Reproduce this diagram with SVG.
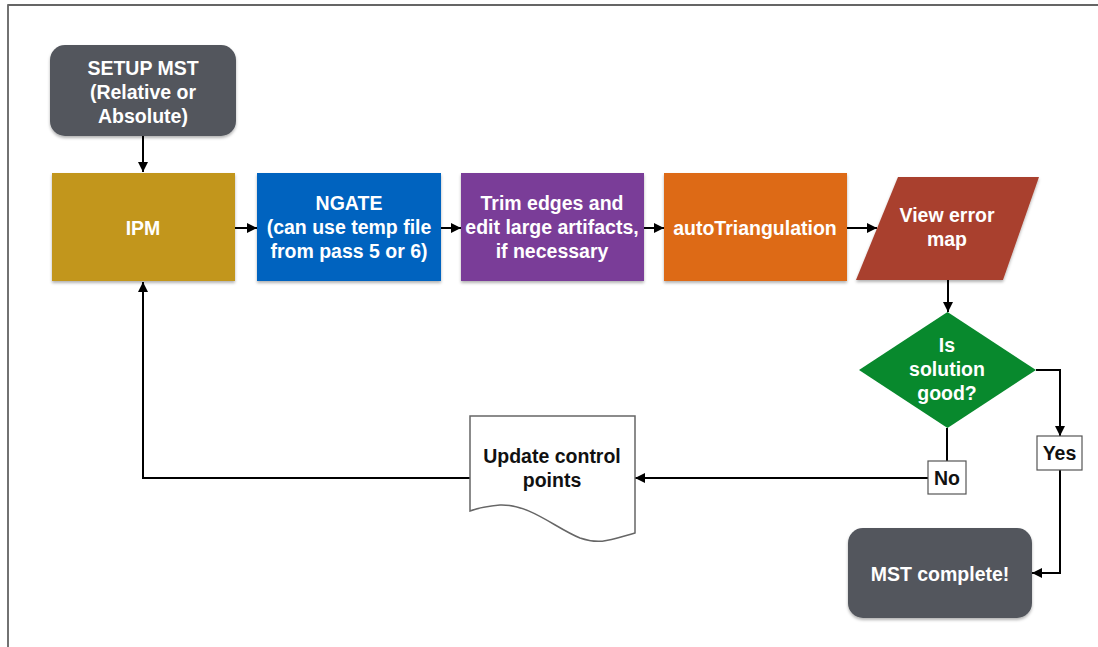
<svg xmlns="http://www.w3.org/2000/svg" width="1098" height="647" viewBox="0 0 1098 647">
<defs>
<filter id="sh" x="-10%" y="-10%" width="120%" height="130%">
<feDropShadow dx="0" dy="2" stdDeviation="1.5" flood-color="#000" flood-opacity="0.3"/>
</filter>
<marker id="ah" viewBox="0 0 10 10" refX="10" refY="5" markerWidth="10" markerHeight="10" markerUnits="userSpaceOnUse" orient="auto">
<path d="M0,0 L10,5 L0,10 Z" fill="#000"/>
</marker>
</defs>
<style>
.w{font-family:"Liberation Sans",Arial,sans-serif;font-weight:bold;font-size:19.5px;fill:#fff;text-anchor:middle}
.b{font-family:"Liberation Sans",Arial,sans-serif;font-weight:bold;font-size:19.5px;fill:#111;text-anchor:middle}
.c{fill:none;stroke:#000;stroke-width:2}
.a{marker-end:url(#ah)}
.lb{fill:#fff;stroke:#555;stroke-width:1.2}
</style>
<rect width="1098" height="647" fill="#fff"/>
<path d="M8,647 V5 H1098" fill="none" stroke="#333" stroke-width="1.5"/>
<line x1="8" y1="5" x2="8" y2="647" stroke="#777" stroke-width="1.5"/>

<g id="connectors">
<path class="c a" d="M143,136 V172"/>
<path class="c a" d="M235,228 H257"/>
<path class="c a" d="M441,228 H461"/>
<path class="c a" d="M644,228 H664"/>
<path class="c a" d="M847,228 H877"/>
<path class="c a" d="M948,280 V312"/>
<path class="c a" d="M1036,370 H1060 V436"/>
<path class="c a" d="M1060,470 V573 H1032"/>
<path class="c" d="M947,428 V461"/>
<path class="c a" d="M928,478 H635"/>
<path class="c a" d="M470,478 H143 V282"/>
</g>

<g id="setup">
<rect x="50" y="45" width="186" height="91" rx="15" fill="#52565d" filter="url(#sh)"/>
<text class="w" x="143" y="75">SETUP MST</text>
<text class="w" x="143" y="99">(Relative or</text>
<text class="w" x="143" y="123">Absolute)</text>
</g>

<g id="ipm">
<rect x="52" y="173" width="183" height="108" fill="#c2961c" filter="url(#sh)"/>
<text class="w" x="143" y="235">IPM</text>
</g>

<g id="ngate">
<rect x="257" y="173" width="184" height="108" fill="#0563bf" filter="url(#sh)"/>
<text class="w" x="349" y="210">NGATE</text>
<text class="w" x="349" y="234">(can use temp file</text>
<text class="w" x="349" y="258">from pass 5 or 6)</text>
</g>

<g id="trim">
<rect x="461" y="173" width="183" height="108" fill="#7a3d98" filter="url(#sh)"/>
<text class="w" x="552" y="210">Trim edges and</text>
<text class="w" x="552" y="234">edit large artifacts,</text>
<text class="w" x="552" y="258">if necessary</text>
</g>

<g id="auto">
<rect x="664" y="173" width="183" height="108" fill="#dd6b12" filter="url(#sh)"/>
<text class="w" x="755" y="235">autoTriangulation</text>
</g>

<g id="view">
<polygon points="898,177 1039,177 1003,280 856,280" fill="#a9412f" filter="url(#sh)"/>
<text class="w" x="947" y="222">View error</text>
<text class="w" x="947" y="246">map</text>
</g>

<g id="decision">
<polygon points="947.5,312 1036,370 947.5,428 859,370" fill="#08892d"/>
<text class="w" x="947" y="352">Is</text>
<text class="w" x="947" y="376">solution</text>
<text class="w" x="947" y="400">good?</text>
</g>

<g id="yes">
<rect x="1037" y="436" width="45" height="34" class="lb"/>
<text class="b" x="1059.5" y="460">Yes</text>
</g>

<g id="no">
<rect x="928" y="461" width="38" height="33" class="lb"/>
<text class="b" x="947" y="485">No</text>
</g>

<g id="update">
<path d="M470,416 H635 V533 C610,540 600,545 580,538 C555,528 530,504 500,505 C488,506 478,508 470,511 Z" fill="#fff" stroke="#666" stroke-width="1.5"/>
<text class="b" x="552" y="463">Update control</text>
<text class="b" x="552" y="487">points</text>
</g>

<g id="complete">
<rect x="848" y="528" width="184" height="90" rx="15" fill="#52565d" filter="url(#sh)"/>
<text class="w" x="940" y="581">MST complete!</text>
</g>
</svg>
